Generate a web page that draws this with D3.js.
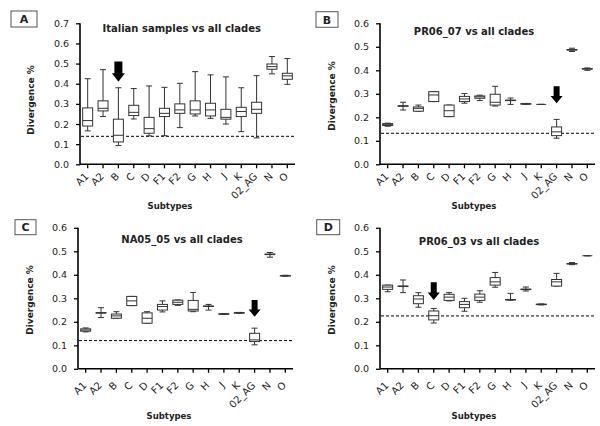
<!DOCTYPE html>
<html>
<head>
<meta charset="utf-8">
<script src="https://cdn.jsdelivr.net/npm/d3@7"></script>
<style>
  body { margin: 0; background: #fff; }
  text { font-family: "DejaVu Sans", Verdana, sans-serif; fill: #222; }
</style>
</head>
<body>
<div id="chart"></div>
<script>
// subtype categories (same for all panels)
var subtypes = ["A1", "A2", "B", "C", "D", "F1", "F2", "G", "H", "J", "K", "02_AG", "N", "O"];

// box stats per subtype: [min, q1, median, q3, max]
var statsA = [
  [0.166, 0.19, 0.217, 0.28, 0.425],
  [0.237, 0.265, 0.278, 0.315, 0.47],
  [0.093, 0.111, 0.144, 0.224, 0.38],
  [0.225, 0.242, 0.258, 0.293, 0.376],
  [0.141, 0.154, 0.177, 0.233, 0.389],
  [0.142, 0.237, 0.253, 0.278, 0.382],
  [0.182, 0.253, 0.27, 0.3, 0.402],
  [0.24, 0.25, 0.27, 0.315, 0.46],
  [0.228, 0.24, 0.27, 0.303, 0.444],
  [0.2, 0.224, 0.233, 0.273, 0.434],
  [0.162, 0.237, 0.262, 0.283, 0.38],
  [0.131, 0.253, 0.273, 0.308, 0.44],
  [0.449, 0.472, 0.485, 0.498, 0.535],
  [0.397, 0.422, 0.439, 0.452, 0.525]
];
var statsB = [
  [0.162, 0.165, 0.17, 0.173, 0.175],
  [0.231, 0.247, 0.248, 0.249, 0.264],
  [0.226, 0.226, 0.238, 0.244, 0.252],
  [0.267, 0.267, 0.295, 0.309, 0.309],
  [0.203, 0.203, 0.228, 0.252, 0.252],
  [0.26, 0.267, 0.278, 0.289, 0.301],
  [0.271, 0.281, 0.287, 0.291, 0.294],
  [0.248, 0.252, 0.264, 0.298, 0.332],
  [0.255, 0.271, 0.272, 0.273, 0.282],
  [0.255, 0.256, 0.257, 0.258, 0.259],
  [0.255, 0.255, 0.255, 0.255, 0.255],
  [0.111, 0.122, 0.138, 0.159, 0.191],
  [0.48, 0.486, 0.487, 0.488, 0.494],
  [0.4, 0.405, 0.406, 0.407, 0.41]
];
var statsC = [
  [0.157, 0.16, 0.165, 0.17, 0.174],
  [0.218, 0.237, 0.238, 0.239, 0.26],
  [0.215, 0.215, 0.225, 0.233, 0.243],
  [0.269, 0.269, 0.289, 0.308, 0.308],
  [0.194, 0.194, 0.215, 0.238, 0.243],
  [0.242, 0.25, 0.265, 0.274, 0.289],
  [0.27, 0.274, 0.283, 0.292, 0.293],
  [0.243, 0.246, 0.253, 0.291, 0.325],
  [0.25, 0.265, 0.266, 0.267, 0.274],
  [0.231, 0.232, 0.233, 0.234, 0.235],
  [0.236, 0.237, 0.238, 0.239, 0.24],
  [0.102, 0.116, 0.123, 0.151, 0.173],
  [0.475, 0.486, 0.487, 0.488, 0.495],
  [0.394, 0.395, 0.396, 0.397, 0.398]
];
var statsD = [
  [0.328, 0.338, 0.348, 0.356, 0.356],
  [0.324, 0.35, 0.351, 0.352, 0.378],
  [0.262, 0.277, 0.297, 0.311, 0.324],
  [0.195, 0.208, 0.226, 0.246, 0.257],
  [0.289, 0.291, 0.305, 0.317, 0.324],
  [0.245, 0.26, 0.274, 0.286, 0.3],
  [0.283, 0.291, 0.305, 0.318, 0.332],
  [0.347, 0.356, 0.37, 0.388, 0.41],
  [0.292, 0.293, 0.294, 0.295, 0.321],
  [0.331, 0.337, 0.338, 0.339, 0.348],
  [0.272, 0.273, 0.274, 0.275, 0.276],
  [0.352, 0.352, 0.37, 0.38, 0.406],
  [0.443, 0.446, 0.447, 0.448, 0.452],
  [0.481, 0.481, 0.481, 0.481, 0.481]
];

// dashed reference lines
var cutoffs = [0.139, 0.132, 0.12, 0.225];
// arrows: [subtype, top, tip]
var arrows = [["B", 0.51, 0.41], ["02_AG", 0.332, 0.26], ["02_AG", 0.293, 0.222], ["C", 0.368, 0.293]];
var titles = ["Italian samples vs all clades", "PR06_07 vs all clades", "NA05_05 vs all clades", "PR06_03 vs all clades"];
var letters = ["A", "B", "C", "D"];
var yMaxes = [0.7, 0.6, 0.6, 0.6];
var allStats = [statsA, statsB, statsC, statsD];

// layout of each panel (pixels)
var layouts = [
  {ox: 0, oy: 0, title: [181.7, 32], box: [11, 11, 26, 16], xlab: [170, 208.5], ylab: [34, 100], catY: 174.5},
  {ox: 300, oy: 0, title: [174, 34.5], box: [16, 11.7, 22, 15.6], xlab: [174, 208.5], ylab: [35, 96], catY: 174.5},
  {ox: -2, oy: 204.5, title: [184, 38], box: [17, 15.2, 21, 15], xlab: [171, 214.8], ylab: [35, 95.5], catY: 179},
  {ox: 300, oy: 204.5, title: [179, 40.5], box: [16.7, 15.2, 23, 15], xlab: [174, 214.8], ylab: [35, 95.5], catY: 179}
];

var svg = d3.select("#chart").append("svg")
  .attr("width", 600)
  .attr("height", 426);

layouts.forEach(function(lay, p) {
  var g = svg.append("g").attr("transform", "translate(" + lay.ox + "," + lay.oy + ")");
  var stats = allStats[p];

  var x = d3.scaleBand().domain(subtypes).range([80, 295]);
  var y = d3.scaleLinear().domain([0, yMaxes[p]]).range([164.3, 23.3]);
  var cx = function(s) { return x(s) + x.bandwidth() / 2; };

  // panel letter box
  g.append("rect")
    .attr("x", lay.box[0]).attr("y", lay.box[1])
    .attr("width", lay.box[2]).attr("height", lay.box[3])
    .attr("fill", "#fff").attr("stroke", "#555").attr("stroke-width", 1);
  g.append("text")
    .attr("x", lay.box[0] + lay.box[2] / 2).attr("y", lay.box[1] + lay.box[3] / 2 + 4)
    .attr("text-anchor", "middle")
    .style("font-size", "11px").style("font-weight", "bold")
    .text(letters[p]);

  // title
  g.append("text")
    .attr("x", lay.title[0]).attr("y", lay.title[1])
    .attr("text-anchor", "middle")
    .style("font-size", "10px").style("font-weight", "bold")
    .text(titles[p]);

  // y axis
  var yAxis = d3.axisLeft(y).ticks(Math.round(yMaxes[p] * 10)).tickFormat(d3.format(".1f"))
    .tickSize(4).tickPadding(7);
  var ya = g.append("g").attr("transform", "translate(80,0)").call(yAxis);
  ya.select(".domain").attr("stroke", "#000").attr("stroke-width", 1.6).attr("d", "M0,164.3V23.3");
  ya.selectAll(".tick line").attr("stroke", "#000").attr("stroke-width", 1.3);
  ya.selectAll("text").style("font-size", "9.5px").style("font-family", "DejaVu Sans").attr("fill", "#333");

  // x axis
  var xAxis = d3.axisBottom(x).tickSize(4).tickFormat("");
  var xa = g.append("g").attr("transform", "translate(0,164.3)").call(xAxis);
  xa.select(".domain").attr("stroke", "#000").attr("stroke-width", 1.6).attr("d", "M80,0H295");
  xa.selectAll(".tick line").attr("stroke", "#000").attr("stroke-width", 1.3);

  // rotated category labels
  g.selectAll(".cat").data(subtypes).enter().append("text")
    .attr("class", "cat")
    .attr("transform", function(d) { return "translate(" + (cx(d) - 1) + "," + lay.catY + ") rotate(-45)"; })
    .attr("text-anchor", "end")
    .attr("dy", "0.35em")
    .style("font-size", "10px")
    .attr("fill", "#333")
    .text(function(d) { return d; });

  // axis titles
  g.append("text")
    .attr("x", lay.xlab[0]).attr("y", lay.xlab[1])
    .attr("text-anchor", "middle")
    .style("font-size", "8.5px").style("font-weight", "bold")
    .text("Subtypes");
  g.append("text")
    .attr("transform", "translate(" + lay.ylab[0] + "," + lay.ylab[1] + ") rotate(-90)")
    .attr("text-anchor", "middle")
    .style("font-size", "9px").style("font-weight", "bold")
    .text("Divergence %");

  // dashed cutoff line
  g.append("line")
    .attr("x1", 81).attr("x2", 295)
    .attr("y1", y(cutoffs[p])).attr("y2", y(cutoffs[p]))
    .attr("stroke", "#000").attr("stroke-width", 1)
    .attr("stroke-dasharray", "3,2");

  // box plots
  var boxW = 10, capW = 6;
  var bg = g.selectAll(".bx").data(stats).enter().append("g").attr("class", "bx");
  bg.append("line")
    .attr("x1", function(d, i) { return cx(subtypes[i]); })
    .attr("x2", function(d, i) { return cx(subtypes[i]); })
    .attr("y1", function(d) { return y(d[0]); })
    .attr("y2", function(d) { return y(d[4]); })
    .attr("stroke", "#333");
  [0, 4].forEach(function(k) {
    bg.append("line")
      .attr("x1", function(d, i) { return cx(subtypes[i]) - capW / 2; })
      .attr("x2", function(d, i) { return cx(subtypes[i]) + capW / 2; })
      .attr("y1", function(d) { return y(d[k]); })
      .attr("y2", function(d) { return y(d[k]); })
      .attr("stroke", "#333");
  });
  bg.append("rect")
    .attr("x", function(d, i) { return cx(subtypes[i]) - boxW / 2; })
    .attr("y", function(d) { return y(d[3]); })
    .attr("width", boxW)
    .attr("height", function(d) { return Math.max(0, y(d[1]) - y(d[3])); })
    .attr("fill", "#fff")
    .attr("stroke", "#333");
  bg.append("line")
    .attr("x1", function(d, i) { return cx(subtypes[i]) - boxW / 2; })
    .attr("x2", function(d, i) { return cx(subtypes[i]) + boxW / 2; })
    .attr("y1", function(d) { return y(d[2]); })
    .attr("y2", function(d) { return y(d[2]); })
    .attr("stroke", "#333");

  // arrow marker
  var a = arrows[p];
  var ax = cx(a[0]), yt = y(a[1]), yp = y(a[2]);
  var headH = (yp - yt) * 0.42;
  var sw = p === 0 ? 4 : 3, hw = p === 0 ? 6.5 : 6;
  g.append("path")
    .attr("d", "M" + (ax - sw) + "," + yt + "H" + (ax + sw) + "V" + (yp - headH) +
      "H" + (ax + hw) + "L" + ax + "," + yp + "L" + (ax - hw) + "," + (yp - headH) +
      "H" + (ax - sw) + "Z")
    .attr("fill", "#000");
});
</script>
</body>
</html>
